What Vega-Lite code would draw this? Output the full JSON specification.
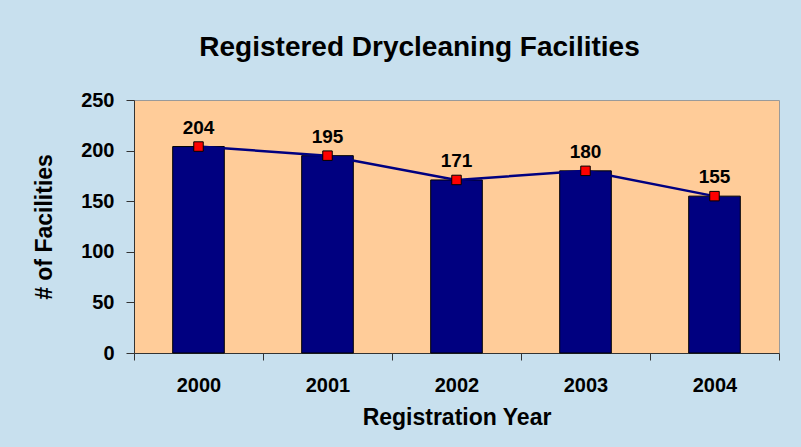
{
  "$schema": "https://vega.github.io/schema/vega-lite/v6.json",
  "width": 645,
  "height": 253,
  "autosize": {"type": "none"},
  "padding": {"left": 134, "top": 100, "right": 22, "bottom": 94},
  "background": "#C8E0EE",
  "title": {
    "text": "Registered Drycleaning Facilities",
    "font": "Liberation Sans",
    "fontSize": 28,
    "fontWeight": "bold",
    "color": "#000000",
    "anchor": "middle",
    "frame": "group",
    "dx": -37,
    "baseline": "alphabetic",
    "offset": 6
  },
  "config": {
    "view": {"fill": "#FFCC99", "stroke": "#9A9A9A", "strokeWidth": 1},
    "axis": {
      "labelFont": "Liberation Sans",
      "labelFontWeight": "bold",
      "labelColor": "#000000",
      "titleFont": "Liberation Sans",
      "titleFontWeight": "bold",
      "titleColor": "#000000",
      "domainColor": "#333333",
      "tickColor": "#333333",
      "grid": false
    }
  },
  "data": {
    "values": [
      {"year": "2000", "count": 204},
      {"year": "2001", "count": 195},
      {"year": "2002", "count": 171},
      {"year": "2003", "count": 180},
      {"year": "2004", "count": 155}
    ]
  },
  "encoding": {
    "x": {
      "field": "year",
      "type": "ordinal",
      "scale": {"paddingInner": 0, "paddingOuter": 0},
      "axis": {
        "title": "Registration Year",
        "labelAngle": 0,
        "labelFontSize": 20,
        "titleFontSize": 23,
        "tickBand": "extent",
        "tickSize": 7,
        "labelPadding": 15,
        "titlePadding": 11
      }
    },
    "y": {
      "field": "count",
      "type": "quantitative",
      "scale": {"domain": [0, 250]},
      "axis": {
        "title": "# of Facilities",
        "values": [0, 50, 100, 150, 200, 250],
        "labelFontSize": 20,
        "titleFontSize": 23,
        "tickSize": 8,
        "labelPadding": 12,
        "titlePadding": 24
      }
    }
  },
  "layer": [
    {"mark": {"type": "bar", "width": {"band": 0.4}, "color": "#000080", "stroke": "#000000", "strokeWidth": 1}},
    {"mark": {"type": "line", "color": "#000080", "strokeWidth": 2.5}},
    {"mark": {"type": "point", "shape": "square", "filled": true, "fill": "#FF0000", "stroke": "#000000", "strokeWidth": 1, "size": 90, "opacity": 1}},
    {
      "mark": {"type": "text", "dy": -19, "font": "Liberation Sans", "fontWeight": "bold", "fontSize": 19, "color": "#000000"},
      "encoding": {"text": {"field": "count", "type": "quantitative"}}
    }
  ]
}
